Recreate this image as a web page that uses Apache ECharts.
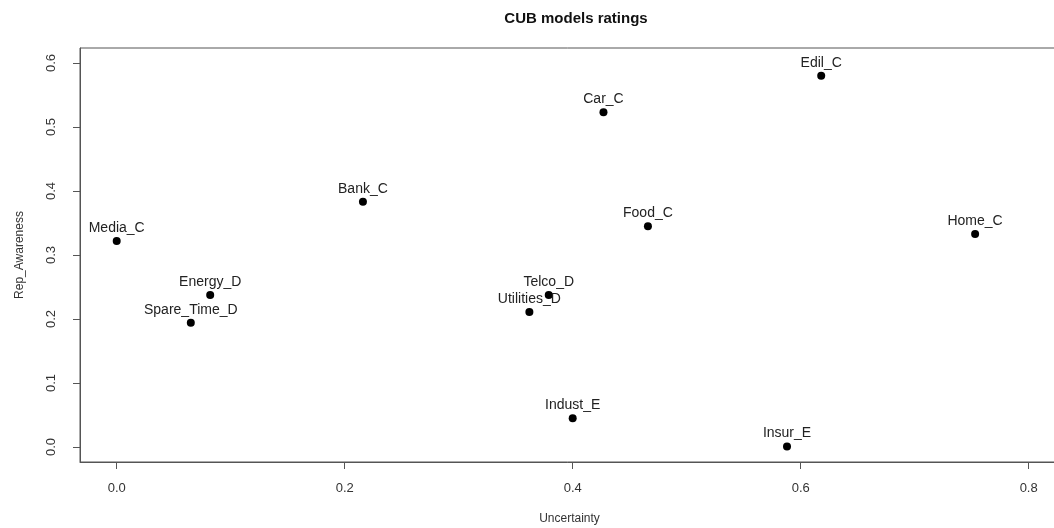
<!DOCTYPE html>
<html>
<head>
<meta charset="utf-8">
<script src="https://cdn.jsdelivr.net/npm/echarts@6/dist/echarts.min.js"></script>
<style>
html,body{margin:0;padding:0;background:#fff;}
#canvas{width:1054px;height:528px;}
</style>
</head>
<body>
<div id="canvas"></div>
<script>
// CUB model estimates per sector
var names = ['Media_C','Bank_C','Car_C','Edil_C','Food_C','Home_C',
             'Energy_D','Spare_Time_D','Telco_D','Utilities_D','Indust_E','Insur_E'];
var uncertainty = [0.000,0.216,0.427,0.618,0.466,0.753,
                   0.082,0.065,0.379,0.362,0.400,0.588];
var repAwareness = [0.322,0.383,0.523,0.580,0.345,0.333,
                    0.2375,0.194,0.2375,0.211,0.045,0.001];
var xTicks = [0.0,0.2,0.4,0.6,0.8];
var yTicks = [0.0,0.1,0.2,0.3,0.4,0.5,0.6];

var fontName = 'Liberation Sans';

function buildPoints(){
	var pts = [];
	for(var i=0;i<names.length;i++){
		pts.push({name:names[i], value:[uncertainty[i], repAwareness[i]]});
	}
	return pts;
}

var myChart = echarts.init(document.getElementById('canvas'));
var option = {
	backgroundColor: '#fff',
	animation: false,
	title: {
		text: 'CUB models ratings',
		left: 571,
		top: 6,
		textAlign: 'center',
		textStyle: {fontFamily: fontName, fontSize: 15, fontWeight: 'bold', color: '#111'}
	},
	grid: {
		left: 80,
		top: 48,
		bottom: 66,
		right: -5,
		outerBoundsMode: 'none',
		show: true,
		borderColor: '#555',
		borderWidth: 1
	},
	xAxis: {
		type: 'value',
		min: -0.0322,
		max: 0.8266,
		name: 'Uncertainty',
		nameLocation: 'middle',
		nameGap: 51,
		nameTextStyle: {fontFamily: fontName, fontSize: 12, color: '#333'},
		axisLine: {show: true, onZero: false, lineStyle: {color: '#555'}},
		splitLine: {show: false},
		axisTick: {show: true, inside: false, length: 7, customValues: xTicks, lineStyle: {color: '#555'}},
		axisLabel: {
			customValues: xTicks,
			margin: 20,
			fontFamily: fontName,
			fontSize: 13,
			color: '#333',
			formatter: function(v){ return v.toFixed(1); }
		}
	},
	yAxis: {
		type: 'value',
		min: -0.0234,
		max: 0.6234,
		name: 'Rep_Awareness',
		nameLocation: 'middle',
		nameGap: 54,
		nameTextStyle: {fontFamily: fontName, fontSize: 12, color: '#333'},
		axisLine: {show: true, onZero: false, lineStyle: {color: '#555'}},
		splitLine: {show: false},
		axisTick: {show: true, inside: false, length: 7, customValues: yTicks, lineStyle: {color: '#555'}},
		axisLabel: {
			customValues: yTicks,
			rotate: 90,
			margin: 22,
			fontFamily: fontName,
			fontSize: 13,
			color: '#333',
			formatter: function(v){ return v.toFixed(1); }
		}
	},
	series: [{
		type: 'scatter',
		symbol: 'circle',
		symbolSize: 8,
		itemStyle: {color: '#000', opacity: 1},
		label: {
			show: true,
			position: 'top',
			distance: 2,
			formatter: '{b}',
			fontFamily: fontName,
			fontSize: 14,
			color: '#222'
		},
		data: buildPoints()
	}]
};
myChart.setOption(option);
</script>
</body>
</html>
